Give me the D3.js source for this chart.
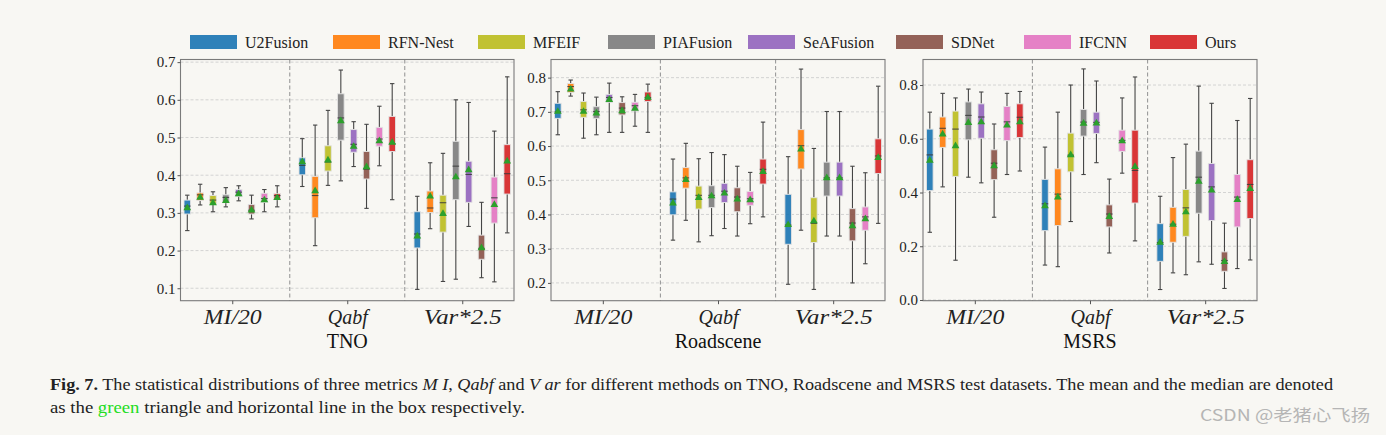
<!DOCTYPE html>
<html>
<head>
<meta charset="utf-8">
<script src="https://cdn.jsdelivr.net/npm/d3@7"></script>
<style>
  html, body { margin: 0; padding: 0; background: #f8f7f3; }
  svg { display: block; }
</style>
</head>
<body>
<svg id="chart" width="1386" height="435"></svg>
<script>
// ---------- DATA ----------
const methods = ["U2Fusion", "RFN-Nest", "MFEIF", "PIAFusion", "SeAFusion", "SDNet", "IFCNN", "Ours"];
const colors = ["#1f77b4", "#ff7f0e", "#bcbd22", "#7f7f7f", "#9467bd", "#8c564b", "#e377c2", "#d62728"];
const metrics = ["MI/20", "Qabf", "Var*2.5"];
const datasets = ["TNO", "Roadscene", "MSRS"];

// each row: [whisker low, Q1, median, Q3, whisker high, mean]
const tnoMI = [
  [0.253, 0.297, 0.318, 0.334, 0.347, 0.315],
  [0.321, 0.333, 0.348, 0.353, 0.376, 0.343],
  [0.303, 0.322, 0.334, 0.346, 0.356, 0.328],
  [0.316, 0.327, 0.341, 0.348, 0.367, 0.334],
  [0.332, 0.343, 0.355, 0.362, 0.372, 0.352],
  [0.284, 0.297, 0.307, 0.322, 0.347, 0.309],
  [0.303, 0.328, 0.338, 0.352, 0.362, 0.336],
  [0.316, 0.335, 0.346, 0.351, 0.372, 0.342]
];
const tnoQabf = [
  [0.370, 0.401, 0.426, 0.446, 0.497, 0.437],
  [0.213, 0.287, 0.346, 0.397, 0.533, 0.360],
  [0.373, 0.411, 0.435, 0.478, 0.572, 0.442],
  [0.385, 0.493, 0.552, 0.616, 0.679, 0.546],
  [0.423, 0.461, 0.482, 0.521, 0.542, 0.478],
  [0.312, 0.390, 0.416, 0.463, 0.535, 0.424],
  [0.425, 0.477, 0.496, 0.527, 0.583, 0.493],
  [0.335, 0.463, 0.484, 0.556, 0.643, 0.489]
];
const tnoVar = [
  [0.097, 0.207, 0.244, 0.303, 0.344, 0.240],
  [0.258, 0.301, 0.313, 0.358, 0.433, 0.346],
  [0.118, 0.249, 0.327, 0.347, 0.458, 0.300],
  [0.124, 0.335, 0.424, 0.490, 0.600, 0.397],
  [0.264, 0.328, 0.402, 0.437, 0.593, 0.416],
  [0.128, 0.177, 0.206, 0.241, 0.328, 0.209],
  [0.117, 0.273, 0.340, 0.395, 0.517, 0.324],
  [0.247, 0.350, 0.404, 0.481, 0.661, 0.439]
];
const roadMI = [
  [0.633, 0.681, 0.700, 0.725, 0.759, 0.703],
  [0.746, 0.757, 0.774, 0.783, 0.793, 0.768],
  [0.623, 0.684, 0.706, 0.730, 0.755, 0.703],
  [0.633, 0.681, 0.701, 0.715, 0.743, 0.698],
  [0.640, 0.728, 0.742, 0.751, 0.784, 0.738],
  [0.640, 0.691, 0.711, 0.727, 0.744, 0.705],
  [0.658, 0.703, 0.718, 0.728, 0.751, 0.712],
  [0.640, 0.730, 0.742, 0.758, 0.781, 0.744]
];
const roadQabf = [
  [0.325, 0.399, 0.445, 0.466, 0.562, 0.435],
  [0.383, 0.477, 0.507, 0.537, 0.608, 0.504],
  [0.320, 0.416, 0.456, 0.483, 0.563, 0.451],
  [0.338, 0.420, 0.456, 0.484, 0.581, 0.456],
  [0.359, 0.435, 0.468, 0.491, 0.575, 0.464],
  [0.337, 0.408, 0.451, 0.478, 0.541, 0.447],
  [0.373, 0.427, 0.446, 0.467, 0.523, 0.445],
  [0.393, 0.489, 0.532, 0.562, 0.670, 0.527]
];
const roadVar = [
  [0.196, 0.313, 0.369, 0.459, 0.569, 0.372],
  [0.354, 0.533, 0.601, 0.648, 0.825, 0.593],
  [0.181, 0.318, 0.374, 0.449, 0.593, 0.383],
  [0.337, 0.454, 0.507, 0.553, 0.701, 0.509],
  [0.337, 0.454, 0.507, 0.553, 0.701, 0.509],
  [0.200, 0.323, 0.375, 0.417, 0.541, 0.369],
  [0.256, 0.354, 0.393, 0.422, 0.522, 0.389],
  [0.374, 0.520, 0.571, 0.621, 0.775, 0.568]
];
const msrsMI = [
  [0.252, 0.407, 0.540, 0.636, 0.699, 0.522],
  [0.421, 0.568, 0.639, 0.681, 0.769, 0.620],
  [0.148, 0.460, 0.636, 0.703, 0.752, 0.576],
  [0.457, 0.596, 0.687, 0.737, 0.785, 0.663],
  [0.436, 0.602, 0.681, 0.730, 0.774, 0.665],
  [0.308, 0.448, 0.509, 0.559, 0.655, 0.502],
  [0.467, 0.593, 0.663, 0.720, 0.769, 0.653],
  [0.480, 0.605, 0.680, 0.730, 0.776, 0.665]
];
const msrsQabf = [
  [0.130, 0.258, 0.358, 0.449, 0.569, 0.353],
  [0.124, 0.277, 0.394, 0.488, 0.699, 0.385],
  [0.292, 0.477, 0.539, 0.621, 0.800, 0.543],
  [0.467, 0.610, 0.662, 0.709, 0.860, 0.660],
  [0.511, 0.620, 0.661, 0.699, 0.815, 0.661],
  [0.175, 0.272, 0.320, 0.354, 0.450, 0.313],
  [0.472, 0.553, 0.594, 0.632, 0.752, 0.595],
  [0.220, 0.361, 0.482, 0.632, 0.830, 0.499]
];
const msrsVar = [
  [0.039, 0.144, 0.214, 0.284, 0.386, 0.217],
  [0.101, 0.215, 0.282, 0.345, 0.530, 0.284],
  [0.094, 0.237, 0.343, 0.411, 0.580, 0.330],
  [0.142, 0.323, 0.457, 0.554, 0.796, 0.444],
  [0.133, 0.296, 0.421, 0.508, 0.732, 0.411],
  [0.043, 0.107, 0.147, 0.179, 0.286, 0.145],
  [0.117, 0.272, 0.383, 0.467, 0.668, 0.376],
  [0.149, 0.303, 0.430, 0.522, 0.750, 0.417]
];

const tnoTicks = [0.1, 0.2, 0.3, 0.4, 0.5, 0.6, 0.7];
const roadTicks = [0.2, 0.3, 0.4, 0.5, 0.6, 0.7, 0.8];
const msrsTicks = [0.0, 0.2, 0.4, 0.6, 0.8];

const panelData = [
  { name: datasets[0], groups: [tnoMI, tnoQabf, tnoVar], ticks: tnoTicks, ydom: [0.067, 0.707], x0: 180.5, x1: 514 },
  { name: datasets[1], groups: [roadMI, roadQabf, roadVar], ticks: roadTicks, ydom: [0.148, 0.853], x0: 551, x1: 885 },
  { name: datasets[2], groups: [msrsMI, msrsQabf, msrsVar], ticks: msrsTicks, ydom: [-0.0026, 0.895], x0: 923, x1: 1257 }
];

// ---------- DRAW ----------
const svg = d3.select("#chart");
const SERIF = "'Liberation Serif', 'Times New Roman', serif";
const plotTop = 59.5, plotBottom = 300.7;
const spacing = 0.1117, boxW = 0.057, capW = 0.038;
const labelWidths = [58, 40, 78];

svg.append("rect").attr("width", 1386).attr("height", 435).attr("fill", "#f8f7f3");

panelData.forEach(p => {
  const x = d3.scaleLinear().domain([-0.45, 2.45]).range([p.x0, p.x1]);
  const y = d3.scaleLinear().domain(p.ydom).range([plotBottom, plotTop]);
  const g = svg.append("g");

  // grid
  g.selectAll("line.grid").data(p.ticks).join("line")
    .attr("x1", p.x0).attr("x2", p.x1)
    .attr("y1", d => y(d)).attr("y2", d => y(d))
    .attr("stroke", "#cfcfcf").attr("stroke-width", 0.9).attr("stroke-dasharray", "3,2");

  // dividers
  g.selectAll("line.div").data([0.5, 1.5]).join("line")
    .attr("x1", d => x(d)).attr("x2", d => x(d))
    .attr("y1", plotTop).attr("y2", plotBottom)
    .attr("stroke", "#9a9a9a").attr("stroke-width", 1.1).attr("stroke-dasharray", "4,2.5");

  // boxes
  p.groups.forEach((grp, gi) => {
    grp.forEach((d, mi) => {
      const cx = x(gi + (mi - 3.5) * spacing);
      const hw = (x(boxW) - x(0)) / 2;
      const cw = (x(capW) - x(0)) / 2;
      const [lo, q1, med, q3, hi, mean] = d;
      const wc = "#454545";
      g.append("line").attr("x1", cx).attr("x2", cx).attr("y1", y(q1)).attr("y2", y(lo))
        .attr("stroke", wc).attr("stroke-width", 1.1);
      g.append("line").attr("x1", cx).attr("x2", cx).attr("y1", y(q3)).attr("y2", y(hi))
        .attr("stroke", wc).attr("stroke-width", 1.1);
      g.append("line").attr("x1", cx - cw).attr("x2", cx + cw).attr("y1", y(lo)).attr("y2", y(lo))
        .attr("stroke", wc).attr("stroke-width", 1.1);
      g.append("line").attr("x1", cx - cw).attr("x2", cx + cw).attr("y1", y(hi)).attr("y2", y(hi))
        .attr("stroke", wc).attr("stroke-width", 1.1);
      g.append("rect").attr("x", cx - hw).attr("y", y(q3)).attr("width", 2 * hw)
        .attr("height", y(q1) - y(q3))
        .attr("fill", colors[mi]).attr("fill-opacity", 0.93)
        .attr("stroke", "#e2e2e2").attr("stroke-width", 0.9);
      g.append("line").attr("x1", cx - hw).attr("x2", cx + hw).attr("y1", y(med)).attr("y2", y(med))
        .attr("stroke", "#3a3a3a").attr("stroke-width", 1.1).attr("stroke-opacity", 0.85);
      g.append("path").attr("d", d3.symbol(d3.symbolTriangle, 26)())
        .attr("transform", `translate(${cx},${y(mean) + 0.8})`)
        .attr("fill", "#2ca02c");
    });
  });

  // frame
  g.append("rect").attr("x", p.x0).attr("y", plotTop).attr("width", p.x1 - p.x0).attr("height", plotBottom - plotTop)
    .attr("fill", "none").attr("stroke", "#7a7a7a").attr("stroke-width", 1.1);

  // y axis
  const ya = d3.axisLeft(y).tickValues(p.ticks).tickFormat(d3.format(".1f")).tickSize(3).tickPadding(2);
  const yg = svg.append("g").attr("transform", `translate(${p.x0},0)`).call(ya);
  yg.select(".domain").remove();
  yg.selectAll("line").attr("stroke", "#555");
  yg.selectAll("text").attr("font-family", SERIF).attr("font-size", 15).attr("fill", "#222");

  // x axis
  const xa = d3.axisBottom(x).tickValues([0, 1, 2]).tickFormat((d, i) => metrics[i]).tickSize(3.5).tickPadding(5);
  const xg = svg.append("g").attr("transform", `translate(0,${plotBottom})`).call(xa);
  xg.select(".domain").remove();
  xg.selectAll("line").attr("stroke", "#555");
  xg.selectAll("text").attr("font-family", SERIF).attr("font-size", 20).attr("font-style", "italic")
    .attr("fill", "#222").attr("dy", "0.72em")
    .attr("textLength", (d, i) => labelWidths[i]).attr("lengthAdjust", "spacingAndGlyphs");

  // title
  svg.append("text").attr("x", (p.x0 + p.x1) / 2).attr("y", 348)
    .attr("text-anchor", "middle").attr("font-family", SERIF).attr("font-size", 20).attr("fill", "#111")
    .text(p.name);
});

// legend
const legX = [190, 333, 478, 608, 748, 896, 1024, 1150];
methods.forEach((m, i) => {
  svg.append("rect").attr("x", legX[i]).attr("y", 35).attr("width", 47).attr("height", 14)
    .attr("fill", colors[i]).attr("fill-opacity", 0.93);
  svg.append("text").attr("x", legX[i] + 55).attr("y", 47.5)
    .attr("font-family", SERIF).attr("font-size", 16).attr("fill", "#222").text(m);
});

// caption
const cap1 = svg.append("text").attr("x", 50).attr("y", 390)
  .attr("font-family", SERIF).attr("font-size", 16).attr("fill", "#222")
  .attr("textLength", 1283).attr("lengthAdjust", "spacingAndGlyphs");
cap1.append("tspan").attr("font-weight", "bold").text("Fig. 7.");
cap1.append("tspan").text("  The statistical distributions of three metrics ");
cap1.append("tspan").attr("font-style", "italic").text("M I");
cap1.append("tspan").text(", ");
cap1.append("tspan").attr("font-style", "italic").text("Qabf");
cap1.append("tspan").text(" and ");
cap1.append("tspan").attr("font-style", "italic").text("V ar");
cap1.append("tspan").text(" for different methods on TNO, Roadscene and MSRS test datasets. The mean and the median are denoted");

const cap2 = svg.append("text").attr("x", 50).attr("y", 413)
  .attr("font-family", SERIF).attr("font-size", 16).attr("fill", "#222")
  .attr("textLength", 475).attr("lengthAdjust", "spacingAndGlyphs");
cap2.append("tspan").text("as the ");
cap2.append("tspan").attr("fill", "#22dd22").text("green");
cap2.append("tspan").text(" triangle and horizontal line in the box respectively.");

svg.append("text").attr("x", 1370).attr("y", 421).attr("text-anchor", "end")
  .attr("font-family", "'Noto Sans CJK SC', 'Noto Sans', sans-serif").attr("font-size", 16)
  .attr("fill", "#b5b5b5").attr("textLength", 170).attr("lengthAdjust", "spacingAndGlyphs")
  .text("CSDN @老猪心飞扬");
</script>
</body>
</html>
